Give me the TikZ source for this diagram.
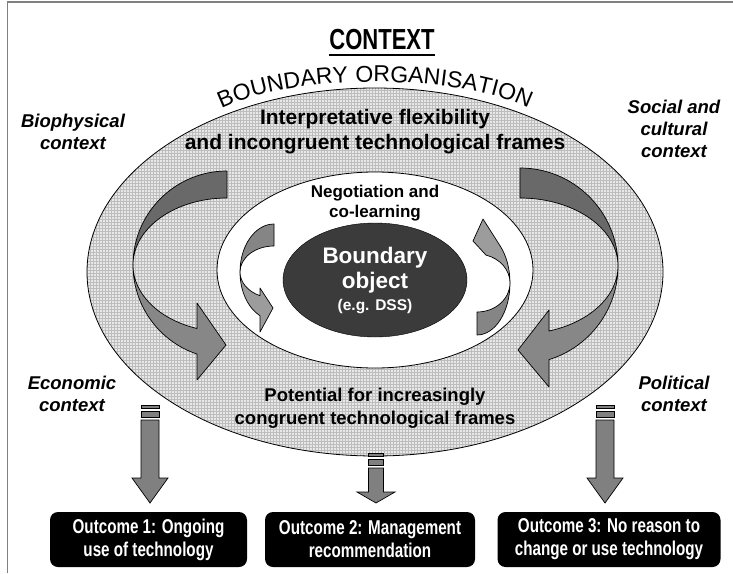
\documentclass[tikz,border=0pt]{standalone}
\usepackage{fontspec}
\setmainfont{Liberation Sans}
\newfontfamily\narrowfont[FakeStretch=0.76]{Liberation Sans}
\newfontfamily\spacedfont[LetterSpace=3]{Liberation Sans}
\usetikzlibrary{patterns, decorations.text, shapes.geometric}

\definecolor{ringgray}{gray}{0.91}
\definecolor{gridgray}{gray}{0.74}
\definecolor{darkband}{gray}{0.41}
\definecolor{lightband}{gray}{0.53}
\definecolor{smalldark}{gray}{0.52}
\definecolor{smalllight}{gray}{0.61}
\definecolor{objgray}{gray}{0.23}
\definecolor{downgray}{gray}{0.5}

\tikzset{
    pics/downarrow/.style args={#1/#2/#3/#4}{code={
        % shaft half width / head half width / head length / shaft length
        \filldraw[downbar] (0,0) -- (-#2,-#3) -- (-#1,-#3) -- (-#1,-#3-#4)
            -- (#1,-#3-#4) -- (#1,-#3) -- (#2,-#3) -- cycle;
        \filldraw[downbar] (-#1,-#3-#4-3) rectangle (#1,-#3-#4-9);
        \filldraw[downbar] (-#1,-#3-#4-12) rectangle (#1,-#3-#4-15);
    }}
}

\begin{document}
\begin{tikzpicture}[
    x=1pt, y=-1pt,
    band/.style={draw=black, line width=0.7pt, line join=round},
    downbar/.style={draw=black, fill=downgray, line width=0.7pt},
    ctxlabel/.style={
        font=\bfseries\itshape\fontsize{18.5}{22}\selectfont,
        align=center,
        inner sep=0pt
    },
    ringtext/.style={
        font=\bfseries\fontsize{21}{25}\selectfont,
        align=center,
        inner sep=0pt
    },
    outcome/.style={
        fill=black,
        rounded corners=8pt,
        text=white,
        align=center,
        minimum height=55,
        inner sep=0pt,
        font=\narrowfont\bfseries\fontsize{20}{23}\selectfont
    }
]
\useasboundingbox (0,0) rectangle (733,573);
\fill[white] (0,0) rectangle (733,573);
\draw[gray, line width=1.5] (7.5,573) -- (7.5,2) -- (733,2);

% heading
\node[anchor=base, inner sep=0pt, font=\narrowfont\bfseries\fontsize{29}{30}\selectfont]
    (ctx) at (382,49) {CONTEXT};
\draw[line width=2] ([yshift=-6pt]ctx.base west) -- ([yshift=-6pt]ctx.base east);

% boundary organisation ring
\path[preaction={fill=ringgray}, pattern=grid, pattern color=gridgray]
    (375,272) ellipse [x radius=288, y radius=184];
\draw[line width=0.8] (375,272) ellipse [x radius=288, y radius=184];
\path[decorate, decoration={text along path, text align=center,
    text={|\spacedfont\fontsize{23}{23}\selectfont|BOUNDARY ORGANISATION}}]
    (375,137) ++(190:180 and 55) arc[start angle=190, end angle=350, x radius=180, y radius=55];

\draw[fill=white, line width=0.8] (375,270) ellipse [x radius=158, y radius=98];

% big arrows in the ring
\filldraw[band, fill=lightband] (133,265) arc[start angle=180, end angle=108.6, radius=94]
    -- (197,380) -- (226,345) -- (197,303) -- (197,328.5)
    arc[start angle=108.6, end angle=180, x radius=94, y radius=67] -- cycle;
\filldraw[band, fill=darkband] (227,171) arc[start angle=270, end angle=180, radius=94]
    arc[start angle=180, end angle=270, x radius=94, y radius=67] -- cycle;

\filldraw[band, fill=lightband] (618,266) arc[start angle=0, end angle=72.8, radius=98]
    -- (549,387) -- (518,350) -- (549,310) -- (549,331)
    arc[start angle=72.8, end angle=0, x radius=98, y radius=68] -- cycle;
\filldraw[band, fill=darkband] (520,168) arc[start angle=270, end angle=360, radius=98]
    arc[start angle=0, end angle=-90, x radius=98, y radius=68] -- cycle;

% small arrows round the object
\filldraw[band, fill=smalllight] (240,272) arc[start angle=180, end angle=114.3, x radius=34, y radius=48]
    -- (260,332) -- (273,308) -- (260,288) -- (260,295.7)
    arc[start angle=114.3, end angle=180, x radius=34, y radius=26] -- cycle;
\filldraw[band, fill=smalldark] (274,224) arc[start angle=270, end angle=180, x radius=34, y radius=48]
    arc[start angle=180, end angle=270, x radius=34, y radius=26] -- cycle;

\filldraw[band, fill=smalldark] (477,335) arc[start angle=90, end angle=0, x radius=33, y radius=52]
    arc[start angle=0, end angle=90, x radius=33, y radius=29] -- cycle;
\filldraw[band, fill=smalllight] (510,283) arc[start angle=0, end angle=-45, x radius=33, y radius=52]
    -- (483,219) -- (473,241) -- (486,255.1)
    arc[start angle=-74.2, end angle=0, x radius=33, y radius=29] -- cycle;

% boundary object
\node[ellipse, draw=black, fill=objgray, minimum width=184, minimum height=114,
    inner sep=0pt, text=white, align=center, font=\bfseries\fontsize{22.5}{25}\selectfont]
    (object) at (375,280) {Boundary\\object\\[-3pt]{\fontsize{15.5}{18}\selectfont (e.g. DSS)}};

% texts
\node[ringtext] (interp) at (375,132)
    {Interpretative flexibility\\and incongruent technological frames};
\node[font=\bfseries\fontsize{17}{20}\selectfont, align=center, inner sep=0pt]
    (nego) at (375,203) {Negotiation and\\co-learning};
\node[font=\bfseries\fontsize{18.5}{23}\selectfont, align=center, inner sep=0pt]
    (potential) at (375,408) {Potential for increasingly\\congruent technological frames};

\node[ctxlabel] (bio) at (73,132) {Biophysical\\context};
\node[ctxlabel] (social) at (674,129) {Social and\\cultural\\context};
\node[ctxlabel] (eco) at (72,394) {Economic\\context};
\node[ctxlabel] (pol) at (674,394) {Political\\context};

% outcomes
\node[outcome, minimum width=197] (out1) at (148.5,539.5) {Outcome 1: Ongoing\\use of technology};
\node[outcome, minimum width=210] (out2) at (370,539.5) {Outcome 2: Management\\recommendation};
\node[outcome, minimum width=223] (out3) at (609,539.5) {Outcome 3: No reason to\\change or use technology};

\coordinate (tip1) at (150,503);
\coordinate (tip2) at (376,503);
\coordinate (tip3) at (605,503);
\pic at (tip1) {downarrow=9/18/25/58};
\pic at (tip2) {downarrow=7.5/19/11/24};
\pic at (tip3) {downarrow=9/18/25/58};

\end{tikzpicture}
\end{document}
